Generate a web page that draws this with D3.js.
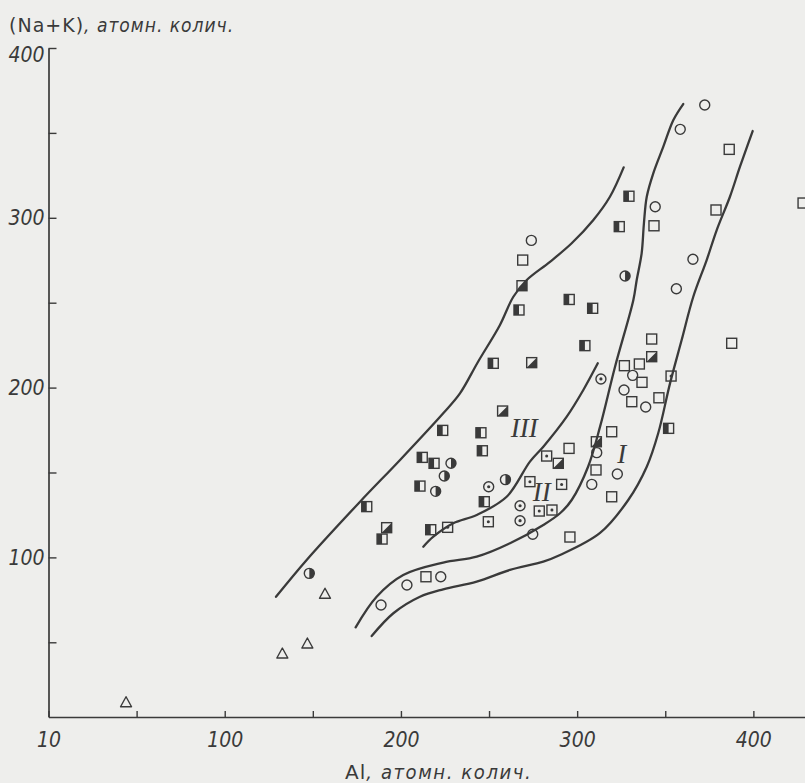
<!DOCTYPE html>
<html>
<head>
<meta charset="utf-8">
<script src="https://cdn.jsdelivr.net/npm/d3@7/dist/d3.min.js"></script>
<style>
  html, body { margin: 0; padding: 0; background: #eeeeec; }
  svg { display: block; }
  .lbl { font-family: "DejaVu Sans Condensed", "DejaVu Sans", sans-serif; font-stretch: condensed; font-style: italic; fill: #3a3a3a; }
  .up  { font-family: "DejaVu Sans", sans-serif; font-style: normal; fill: #3a3a3a; }
  .roman { font-family: "Liberation Serif", serif; font-style: italic; fill: #3a3a3a; }
</style>
</head>
<body>
<script>
// Al (x) vs Na+K (y), atomic quantities
const xTickValues = [0, 50, 100, 150, 200, 250, 300, 350, 400];
const xLabelValues = [0, 100, 200, 300, 400];
const xLabelTexts = ["10", "100", "200", "300", "400"];
const yTickValues = [50, 100, 150, 200, 250, 300, 350, 400];
const yLabelValues = [100, 200, 300, 400];
const yLabelTexts = ["100", "200", "300", "400"];

// sample groups, [Al, Na+K]
const openCircles = [[372.4,366.4],[358.5,352.1],[344.3,306.5],[274.0,286.7],[365.7,275.6],[356.3,258.2],[331.5,207.2],[326.6,198.6],[338.9,188.6],[311.1,161.7],[322.8,149.1],[308.3,143.0],[274.8,113.6],[188.7,72.0],[203.4,83.7],[222.6,88.6]];
const openSquares = [[386.3,340.3],[343.6,295.3],[378.8,304.6],[428.2,308.7],[269.1,275.1],[342.3,228.6],[326.8,212.9],[335.3,213.9],[336.8,203.1],[331.0,191.7],[346.4,194.0],[387.7,226.1],[319.6,174.0],[310.7,151.5],[319.6,135.7],[295.4,164.2],[214.2,88.6],[295.9,112.0]];
const dotSquares = [[353.3,206.8],[282.7,159.7],[273.2,144.6],[291.2,143.0],[249.6,121.0],[278.5,127.3],[285.7,127.9],[226.5,117.7]];
const dotCircles = [[313.5,205.1],[249.8,141.6],[267.6,130.4],[267.6,121.6]];
const halfCircles = [[327.2,265.7],[259.3,145.8],[228.4,155.4],[224.6,147.9],[219.7,138.9],[148.0,90.6]];
const halfSquares = [[329.4,312.7],[323.9,294.8],[267.0,245.7],[295.5,251.9],[308.8,246.7],[304.4,224.7],[252.4,214.3],[223.7,174.8],[245.4,173.4],[246.2,162.8],[212.1,158.9],[218.8,155.4],[210.8,142.0],[247.3,132.8],[180.6,129.9],[189.3,110.8],[216.9,116.3],[351.9,176.0]];
const diagSquares = [[268.7,260.0],[274.2,214.7],[257.7,186.2],[342.3,218.2],[310.9,168.1],[289.3,155.4],[191.9,117.5]];
const triangles = [[156.9,78.3],[146.9,49.0],[132.7,43.1],[44.0,14.4]];

// field boundaries
const curveIIIleft = [[129.1,76.8],[146.5,98.5],[176.8,132.8],[199.5,157.4],[224.0,184.9],[233.5,196.6],[243.7,215.1],[256.2,236.9],[263.8,253.5],[271.4,263.4],[284.6,274.1],[296.9,285.0],[309.2,298.7],[318.6,312.4],[326.4,329.7]];
const curveII = [[212.7,106.3],[218.4,112.2],[229.7,120.1],[243.0,125.0],[260.0,135.7],[273.2,156.4],[280.8,165.2],[294.1,182.9],[303.5,198.6],[311.7,214.3]];
const curveIleft = [[174.3,58.8],[186.2,76.8],[201.3,89.6],[224.0,96.9],[243.0,100.4],[261.9,108.3],[280.8,119.1],[290.3,126.0],[296.9,133.8],[306.2,153.4],[313.0,177.0],[321.5,212.3],[331.9,251.6],[333.8,263.4],[336.6,279.1],[337.9,296.8],[339.5,312.4],[343.2,326.2],[348.9,341.9],[354.6,357.6],[360.2,367.0]];
const curveIright = [[183.4,53.7],[195.7,67.1],[210.8,76.8],[224.0,81.2],[243.0,85.7],[261.9,92.6],[280.8,97.5],[290.3,101.4],[313.0,114.4],[329.0,133.8],[339.5,153.4],[346.0,173.1],[352.7,202.5],[359.3,228.0],[365.9,253.5],[373.5,275.1],[379.2,292.8],[386.7,312.4],[392.4,330.1],[399.6,351.1]];

const fieldNames = ["III", "II", "I"];
const fieldAt = [[270.0,176.2],[279.9,138.7],[325.3,160.9]];

const W = 805, H = 783;
const ink = "#3a3a3a";

const svg = d3.select("body").append("svg").attr("width", W).attr("height", H);
svg.append("rect").attr("width", W).attr("height", H).attr("fill", "#eeeeec");

const x = d3.scaleLinear().domain([0, 429.3]).range([48.5, 805]);
const y = d3.scaleLinear().domain([6, 400]).range([717, 48]);

// axes
const xAxis = d3.axisBottom(x)
  .tickValues(xTickValues)
  .tickSizeInner(-6).tickSizeOuter(0).tickPadding(15)
  .tickFormat(d => { const i = xLabelValues.indexOf(d); return i < 0 ? "" : xLabelTexts[i]; });
const gx = svg.append("g").attr("transform", `translate(0,${y(6)})`).call(xAxis);

const yAxis = d3.axisLeft(y)
  .tickValues(yTickValues)
  .tickSizeInner(-8).tickSizeOuter(0).tickPadding(4)
  .tickFormat(d => { const i = yLabelValues.indexOf(d); return i < 0 ? "" : yLabelTexts[i]; });
const gy = svg.append("g").attr("transform", `translate(${x(0)},0)`).call(yAxis);

[gx, gy].forEach(g => {
  g.select(".domain").attr("stroke", ink).attr("stroke-width", 1.7);
  g.selectAll(".tick line").attr("stroke", ink).attr("stroke-width", 1.4);
  g.selectAll(".tick text").attr("class", "lbl").attr("font-size", 21).attr("fill", ink);
});
// the top label sits just under its tick
gy.selectAll(".tick text").filter(d => d === 400).attr("dy", "0.62em");

// boundary curves
const line = d3.line().x(d => x(d[0])).y(d => y(d[1])).curve(d3.curveCatmullRom.alpha(0.5));
[curveIIIleft, curveII, curveIleft, curveIright].forEach(c => {
  svg.append("path").attr("d", line(c)).attr("fill", "none")
    .attr("stroke", ink).attr("stroke-width", 2.3).attr("stroke-linecap", "round");
});

// markers
const s = 5;   // half side of squares
const r = 5;   // circle radius
const sw = 1.4;
function place(data) {
  return svg.append("g").selectAll("g").data(data).join("g")
    .attr("transform", d => `translate(${x(d[0])},${y(d[1])})`);
}
function square(g) {
  g.append("rect").attr("x", -s).attr("y", -s).attr("width", 2 * s).attr("height", 2 * s)
    .attr("fill", "none").attr("stroke", ink).attr("stroke-width", sw);
}
function circle(g) {
  g.append("circle").attr("r", r).attr("fill", "none").attr("stroke", ink).attr("stroke-width", sw);
}

square(place(openSquares));
circle(place(openCircles));

const ds = place(dotSquares);
square(ds);
ds.append("circle").attr("r", 1.5).attr("fill", ink);

const dc = place(dotCircles);
circle(dc);
dc.append("circle").attr("r", 1.6).attr("fill", ink);

const hs = place(halfSquares);
hs.append("rect").attr("x", -s).attr("y", -s).attr("width", s).attr("height", 2 * s).attr("fill", ink);
square(hs);

const dq = place(diagSquares);
dq.append("path").attr("d", `M${s},${-s}L${s},${s}L${-s},${s}Z`).attr("fill", ink);
square(dq);

const hc = place(halfCircles);
hc.append("path").attr("d", d3.arc()({ innerRadius: 0, outerRadius: r, startAngle: 0, endAngle: Math.PI })).attr("fill", ink);
circle(hc);

place(triangles).append("path")
  .attr("d", `M0,-6L5.5,4L-5.5,4Z`)
  .attr("fill", "none").attr("stroke", ink).attr("stroke-width", sw).attr("stroke-linejoin", "round");

// field numerals
svg.append("g").selectAll("text").data(fieldAt).join("text")
  .attr("class", "roman").attr("font-size", 27).attr("text-anchor", "middle")
  .attr("x", d => x(d[0])).attr("y", d => y(d[1]) + 9)
  .text((d, i) => fieldNames[i]);

// axis titles
const ty = svg.append("text").attr("x", 9).attr("y", 32).attr("font-size", 19);
ty.append("tspan").attr("class", "up").attr("letter-spacing", 1).text("(Na+K)");
ty.append("tspan").attr("class", "lbl").attr("letter-spacing", 1).text(", атомн. колич.");

const tx = svg.append("text").attr("x", 345).attr("y", 779).attr("font-size", 20);
tx.append("tspan").attr("class", "up").attr("letter-spacing", 1).text("Al");
tx.append("tspan").attr("class", "lbl").attr("letter-spacing", 1.6).text(", атомн. колич.");
</script>
</body>
</html>
